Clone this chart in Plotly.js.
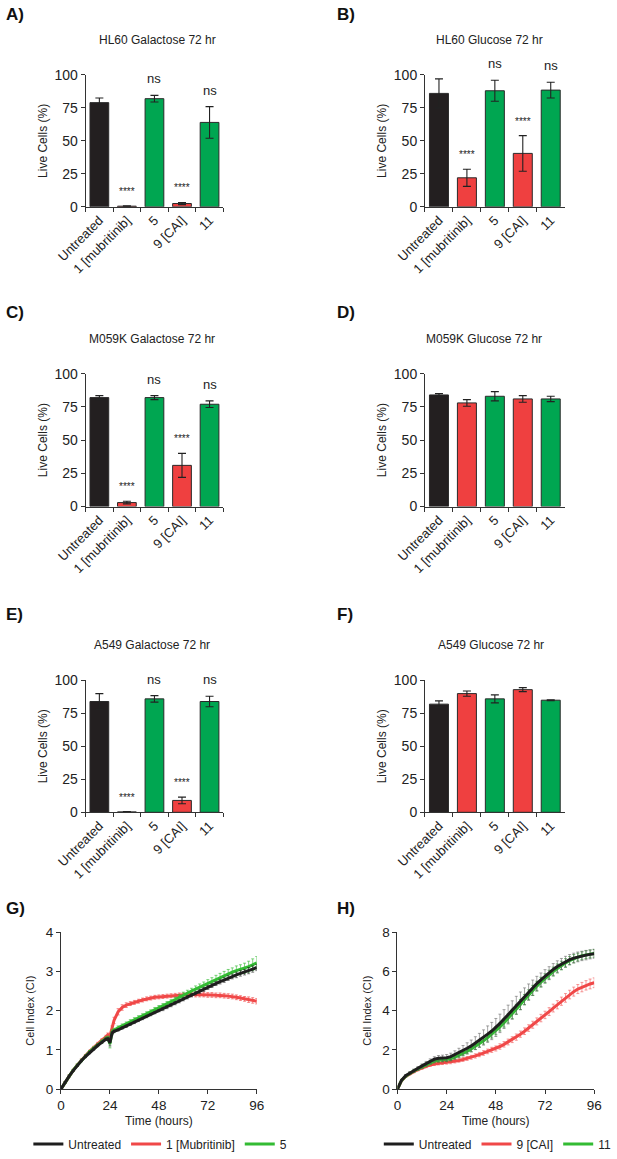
<!DOCTYPE html>
<html>
<head>
<meta charset="utf-8">
<script src="https://cdn.plot.ly/plotly-3.0.1.min.js"></script>
<style>
html,body{margin:0;padding:0;background:#fff;}
#chart{width:617px;height:1159px;}
</style>
</head>
<body>
<div id="chart"></div>
<script>
// ---------- DATA ----------
const categories = ['Untreated', '1 [mubritinib]', '5', '9 [CAI]', '11'];

const A_title = 'HL60 Galactose 72 hr';
const A_vals = [79, 0.5, 82, 2.5, 64];
const A_err  = [3.5, 0.3, 2.5, 0.8, 12];
const A_sig  = ['', '****', 'ns', '****', 'ns'];

const B_title = 'HL60 Glucose 72 hr';
const B_vals = [86, 22, 88, 40.5, 88.5];
const B_err  = [11, 6.5, 8, 13.5, 6];
const B_sig  = ['', '****', 'ns', '****', 'ns'];

const C_title = 'M059K Galactose 72 hr';
const C_vals = [82, 3, 82, 31, 77];
const C_err  = [1.5, 1, 1.5, 9, 2.5];
const C_sig  = ['', '****', 'ns', '****', 'ns'];

const D_title = 'M059K Glucose 72 hr';
const D_vals = [84, 78, 83, 81, 81];
const D_err  = [1, 2.5, 3.5, 2.5, 2];
const D_sig  = ['', '', '', '', ''];

const E_title = 'A549 Galactose 72 hr';
const E_vals = [84, 0.3, 86, 9, 84];
const E_err  = [6, 0.2, 2.5, 2.5, 4];
const E_sig  = ['', '****', 'ns', '****', 'ns'];

const F_title = 'A549 Glucose 72 hr';
const F_vals = [82, 90, 86, 93, 85];
const F_err  = [2.5, 2, 3, 1.5, 0.3];
const F_sig  = ['', '', '', '', ''];

// Panel G: cell index over time
const G_time = [0,2,4,6,8,10,12,14,16,18,20,22,23,24,25,26,28,30,32,34,36,38,40,42,44,46,48,50,52,54,56,58,60,62,64,66,68,70,72,74,76,78,80,82,84,86,88,90,92,94,96];
const G_names = ['Untreated', '1 [Mubritinib]', '5'];
const G_untreated = [0,0.17,0.33,0.47,0.6,0.72,0.83,0.93,1.02,1.11,1.19,1.27,1.28,1.18,1.42,1.47,1.51,1.56,1.6,1.65,1.7,1.75,1.8,1.85,1.9,1.95,2.0,2.04,2.09,2.14,2.19,2.24,2.29,2.34,2.39,2.44,2.49,2.54,2.59,2.64,2.69,2.74,2.78,2.83,2.87,2.91,2.95,2.98,3.02,3.06,3.1];
const G_untreated_err = [0,0.02,0.02,0.02,0.02,0.02,0.03,0.03,0.03,0.03,0.03,0.03,0.04,0.08,0.04,0.03,0.03,0.03,0.03,0.03,0.03,0.03,0.03,0.03,0.03,0.03,0.03,0.04,0.04,0.04,0.04,0.04,0.04,0.04,0.04,0.04,0.05,0.05,0.05,0.05,0.05,0.06,0.06,0.06,0.06,0.07,0.07,0.07,0.08,0.08,0.08];
const G_mubritinib = [0,0.17,0.34,0.48,0.61,0.74,0.85,0.96,1.06,1.16,1.25,1.33,1.38,1.35,1.55,1.75,1.97,2.08,2.14,2.18,2.21,2.24,2.27,2.3,2.32,2.34,2.35,2.36,2.37,2.38,2.39,2.4,2.4,2.41,2.41,2.41,2.41,2.41,2.4,2.4,2.39,2.39,2.38,2.37,2.36,2.34,2.32,2.3,2.28,2.26,2.24];
const G_mubritinib_err = [0,0.02,0.02,0.02,0.03,0.03,0.03,0.03,0.03,0.03,0.03,0.04,0.05,0.06,0.06,0.08,0.08,0.07,0.06,0.05,0.05,0.05,0.05,0.05,0.05,0.05,0.05,0.05,0.05,0.05,0.05,0.05,0.05,0.05,0.05,0.06,0.06,0.06,0.06,0.06,0.06,0.06,0.06,0.06,0.06,0.06,0.06,0.06,0.07,0.07,0.07];
const G_cpd5 = [0,0.17,0.34,0.48,0.61,0.73,0.84,0.95,1.04,1.13,1.21,1.29,1.3,1.15,1.45,1.5,1.56,1.61,1.66,1.72,1.77,1.82,1.87,1.92,1.97,2.02,2.07,2.12,2.17,2.22,2.28,2.34,2.4,2.45,2.5,2.55,2.6,2.65,2.7,2.75,2.8,2.85,2.9,2.94,2.98,3.02,3.05,3.08,3.12,3.17,3.22];
const G_cpd5_err = [0,0.02,0.02,0.02,0.03,0.03,0.03,0.03,0.03,0.03,0.04,0.04,0.05,0.1,0.06,0.05,0.05,0.05,0.05,0.05,0.05,0.05,0.05,0.05,0.05,0.06,0.06,0.06,0.06,0.06,0.06,0.07,0.07,0.07,0.07,0.08,0.08,0.08,0.09,0.09,0.1,0.1,0.1,0.11,0.11,0.12,0.12,0.13,0.14,0.15,0.16];

// Panel H
const H_time = [0,2,4,6,8,10,12,14,16,18,20,22,24,26,28,30,32,34,36,38,40,42,44,46,48,50,52,54,56,58,60,62,64,66,68,70,72,74,76,78,80,82,84,86,88,90,92,94,96];
const H_names = ['Untreated', '9 [CAI]', '11'];
const H_untreated = [0,0.45,0.68,0.82,0.94,1.06,1.18,1.3,1.42,1.52,1.57,1.58,1.6,1.65,1.75,1.86,1.97,2.08,2.2,2.34,2.48,2.63,2.8,2.96,3.14,3.35,3.57,3.8,4.03,4.27,4.5,4.73,4.95,5.17,5.38,5.57,5.76,5.93,6.1,6.25,6.38,6.5,6.6,6.68,6.74,6.79,6.83,6.87,6.9];
const H_untreated_err = [0,0.05,0.06,0.07,0.08,0.09,0.1,0.11,0.12,0.13,0.14,0.15,0.16,0.18,0.2,0.22,0.25,0.28,0.3,0.33,0.36,0.39,0.42,0.44,0.46,0.47,0.48,0.48,0.47,0.46,0.45,0.43,0.41,0.39,0.37,0.35,0.33,0.31,0.3,0.29,0.28,0.27,0.26,0.25,0.25,0.24,0.24,0.23,0.23];
const H_cai = [0,0.43,0.64,0.78,0.89,0.99,1.08,1.16,1.23,1.28,1.31,1.33,1.35,1.38,1.42,1.46,1.51,1.56,1.62,1.69,1.76,1.84,1.92,2.0,2.07,2.17,2.28,2.4,2.52,2.65,2.8,2.95,3.11,3.28,3.45,3.62,3.78,3.95,4.13,4.3,4.48,4.65,4.82,4.97,5.1,5.2,5.29,5.36,5.42];
const H_cai_err = [0,0.04,0.05,0.05,0.06,0.06,0.07,0.07,0.07,0.08,0.08,0.08,0.08,0.09,0.09,0.09,0.1,0.1,0.1,0.11,0.11,0.12,0.12,0.13,0.13,0.14,0.14,0.15,0.15,0.16,0.16,0.17,0.17,0.18,0.18,0.19,0.19,0.2,0.2,0.21,0.21,0.22,0.22,0.23,0.23,0.24,0.24,0.25,0.25];
const H_cpd11 = [0,0.44,0.66,0.8,0.92,1.03,1.14,1.25,1.35,1.43,1.47,1.49,1.5,1.55,1.63,1.72,1.81,1.92,2.04,2.17,2.31,2.46,2.62,2.79,2.97,3.17,3.38,3.6,3.83,4.07,4.31,4.56,4.8,5.03,5.25,5.45,5.64,5.82,5.99,6.15,6.3,6.43,6.55,6.65,6.73,6.8,6.85,6.89,6.92];
const H_cpd11_err = [0,0.04,0.05,0.06,0.07,0.07,0.08,0.08,0.09,0.09,0.1,0.1,0.1,0.11,0.11,0.12,0.12,0.13,0.14,0.15,0.16,0.17,0.18,0.19,0.2,0.21,0.22,0.23,0.24,0.25,0.26,0.26,0.26,0.26,0.25,0.25,0.24,0.24,0.23,0.23,0.22,0.22,0.21,0.21,0.2,0.2,0.2,0.2,0.2];

// ---------- STYLE / LAYOUT ----------
const W = 617, H = 1159;
const FONT = 'Liberation Sans, Arial, Helvetica, sans-serif';
const BLACK = '#231f20', RED = '#ef4040', GREEN = '#00a651';
const LBLACK = '#1e1e1e', LRED = '#f04848', LGREEN = '#33bb33';
const barColors = [BLACK, RED, GREEN, RED, GREEN];

function px2x(p) { return p / W; }
function px2y(p) { return 1 - p / H; }

const data = [];
const layout = {
  width: W, height: H, autosize: false,
  margin: {l: 0, r: 0, t: 0, b: 0},
  paper_bgcolor: '#fff', plot_bgcolor: '#fff',
  font: {family: FONT, size: 12, color: '#333'},
  showlegend: true,
  annotations: [],
};

const barPanels = [
  {id: 1, letter: 'A)', title: A_title, vals: A_vals, err: A_err, sig: A_sig, x0: 87, x1: 227, y0: 75, y1: 207, lx: 4, ly: 15, tx: 160, ty: 40},
  {id: 2, letter: 'B)', title: B_title, vals: B_vals, err: B_err, sig: B_sig, x0: 432, x1: 574, y0: 75, y1: 207, lx: 341, ly: 15, tx: 498, ty: 40},
  {id: 3, letter: 'C)', title: C_title, vals: C_vals, err: C_err, sig: C_sig, x0: 87, x1: 227, y0: 374, y1: 507, lx: 4, ly: 313, tx: 155, ty: 339},
  {id: 4, letter: 'D)', title: D_title, vals: D_vals, err: D_err, sig: D_sig, x0: 432, x1: 574, y0: 374, y1: 507, lx: 341, ly: 313, tx: 492, ty: 339},
  {id: 5, letter: 'E)', title: E_title, vals: E_vals, err: E_err, sig: E_sig, x0: 87, x1: 227, y0: 681, y1: 813, lx: 4, ly: 615, tx: 155, ty: 646},
  {id: 6, letter: 'F)', title: F_title, vals: F_vals, err: F_err, sig: F_sig, x0: 432, x1: 574, y0: 681, y1: 813, lx: 341, ly: 615, tx: 499, ty: 646},
];

function axName(id, base) { return id === 1 ? base : base + id; }

barPanels.forEach(p => {
  const xa = 'x' + (p.id === 1 ? '' : p.id), ya = 'y' + (p.id === 1 ? '' : p.id);
  data.push({
    type: 'bar', x: categories, y: p.vals, xaxis: xa, yaxis: ya,
    width: 0.68, showlegend: false, hoverinfo: 'x+y',
    marker: {color: barColors, line: {color: '#2a2a2a', width: 1}},
    error_y: {type: 'data', array: p.err, visible: true, color: '#222', thickness: 1.1, width: 4}
  });
  layout[axName(p.id, 'xaxis')] = {
    domain: [px2x(p.x0), px2x(p.x1)], anchor: ya,
    range: [-0.5, 4.5], type: 'category', fixedrange: true,
    showline: true, linecolor: '#333', linewidth: 1,
    ticks: 'outside', tickson: 'boundaries', ticklen: 4, tickcolor: '#333',
    tickangle: -45, tickfont: {family: FONT, size: 13, color: '#222'},
    showgrid: false, zeroline: false
  };
  layout[axName(p.id, 'yaxis')] = {
    domain: [px2y(p.y1), px2y(p.y0)], anchor: xa,
    range: [0, 100], tickvals: [0, 25, 50, 75, 100], fixedrange: true,
    showline: true, linecolor: '#333', linewidth: 1,
    ticks: 'outside', ticklen: 4, tickcolor: '#333',
    tickfont: {family: FONT, size: 14, color: '#222'},
    showgrid: false, zeroline: false,
    title: {text: 'Live Cells (%)', font: {family: FONT, size: 12, color: '#222'}, standoff: 4}
  };
  // significance marks (x given as category index)
  p.sig.forEach((s, i) => {
    if (!s) return;
    layout.annotations.push({
      xref: xa, yref: ya, x: i, y: p.vals[i] + p.err[i],
      text: s, showarrow: false, yanchor: 'bottom',
      yshift: s === 'ns' ? 7 : 7,
      font: {family: FONT, size: s === 'ns' ? 13 : 10, color: '#222'}
    });
  });
  // panel title
  layout.annotations.push({
    xref: 'paper', yref: 'paper', x: px2x(p.tx), y: px2y(p.ty),
    xanchor: 'center', yanchor: 'middle', text: p.title, showarrow: false,
    font: {family: FONT, size: 12, color: '#222'}
  });
  // panel letter
  layout.annotations.push({
    xref: 'paper', yref: 'paper', x: px2x(p.lx), y: px2y(p.ly),
    xanchor: 'left', yanchor: 'middle', text: '<b>' + p.letter + '</b>', showarrow: false,
    font: {family: FONT, size: 17, color: '#111'}
  });
});

// ---------- LINE PANELS ----------
function lineTrace(t, y, e, name, color, errColor, xa, ya, legend, rank) {
  return {
    type: 'scatter', mode: 'lines', x: t, y: y, name: name,
    xaxis: xa, yaxis: ya, legend: legend, legendrank: rank,
    line: {color: color, width: 3},
    error_y: {type: 'data', array: e, visible: true, color: errColor, thickness: 0.9, width: 1.5}
  };
}

// G (drawn: red, green, black)
data.push(lineTrace(G_time, G_mubritinib, G_mubritinib_err, G_names[1], LRED, 'rgba(240,72,72,0.7)', 'x7', 'y7', 'legend', 2));
data.push(lineTrace(G_time, G_cpd5, G_cpd5_err, G_names[2], LGREEN, 'rgba(51,187,51,0.7)', 'x7', 'y7', 'legend', 3));
data.push(lineTrace(G_time, G_untreated, G_untreated_err, G_names[0], LBLACK, 'rgba(30,30,30,0.6)', 'x7', 'y7', 'legend', 1));
// H
data.push(lineTrace(H_time, H_cai, H_cai_err, H_names[1], LRED, 'rgba(240,72,72,0.6)', 'x8', 'y8', 'legend2', 2));
data.push(lineTrace(H_time, H_cpd11, H_cpd11_err, H_names[2], LGREEN, 'rgba(40,150,40,0.7)', 'x8', 'y8', 'legend2', 3));
data.push(lineTrace(H_time, H_untreated, H_untreated_err, H_names[0], LBLACK, 'rgba(90,90,90,0.6)', 'x8', 'y8', 'legend2', 1));

const lineX = (x0, x1, ya) => ({
  domain: [px2x(x0), px2x(x1)], anchor: ya, range: [0, 96], tickvals: [0, 24, 48, 72, 96],
  showline: true, linecolor: '#333', linewidth: 1, ticks: 'outside', ticklen: 4, tickcolor: '#333',
  tickfont: {family: FONT, size: 13.5, color: '#222'}, showgrid: false, zeroline: false, fixedrange: true,
  title: {text: 'Time (hours)', font: {family: FONT, size: 12, color: '#222'}, standoff: 4}
});
const lineY = (xa, rng, dt) => ({
  domain: [px2y(1090), px2y(933)], anchor: xa, range: rng, dtick: dt,
  showline: true, linecolor: '#333', linewidth: 1, ticks: 'outside', ticklen: 4, tickcolor: '#333',
  tickfont: {family: FONT, size: 13.5, color: '#222'}, showgrid: false, zeroline: false, fixedrange: true,
  title: {text: 'Cell Index (CI)', font: {family: FONT, size: 11, color: '#222'}, standoff: 8}
});
layout.xaxis7 = lineX(62, 261, 'y7');
layout.yaxis7 = lineY('x7', [0, 4], 1);
layout.xaxis8 = lineX(404, 604, 'y8');
layout.yaxis8 = lineY('x8', [0, 8], 2);

const legStyle = (cx) => ({
  orientation: 'h', x: px2x(cx), xanchor: 'center', y: px2y(1145), yanchor: 'middle',
  xref: 'paper', yref: 'paper', bgcolor: 'rgba(0,0,0,0)', itemwidth: 30,
  font: {family: FONT, size: 12, color: '#222'}, traceorder: 'normal',
  tracegroupgap: 0, itemclick: false, itemdoubleclick: false
});
layout.legend = legStyle(163);
layout.legend2 = legStyle(506);

layout.annotations.push({xref: 'paper', yref: 'paper', x: px2x(4), y: px2y(909), xanchor: 'left', yanchor: 'middle', text: '<b>G)</b>', showarrow: false, font: {family: FONT, size: 17, color: '#111'}});
layout.annotations.push({xref: 'paper', yref: 'paper', x: px2x(341), y: px2y(909), xanchor: 'left', yanchor: 'middle', text: '<b>H)</b>', showarrow: false, font: {family: FONT, size: 17, color: '#111'}});

Plotly.newPlot('chart', data, layout, {staticPlot: true, displayModeBar: false});
</script>
</body>
</html>
